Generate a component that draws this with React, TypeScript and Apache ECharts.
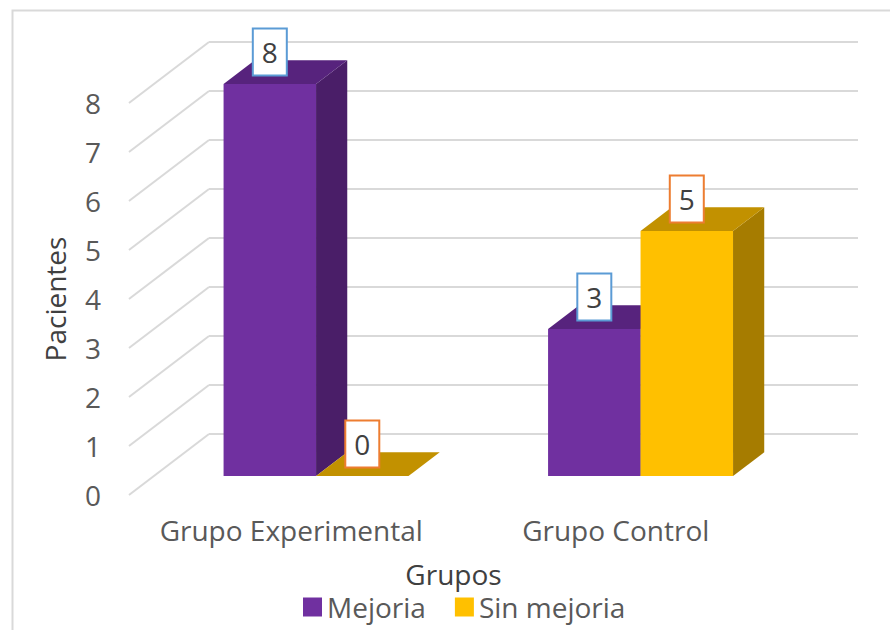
import React, { useEffect, useRef } from "react";
import * as echarts from "echarts";

const categories = ["Grupo Experimental", "Grupo Control"];
const mejoria = [8, 3];
const sinMejoria = [0, 5];
const yTicks = [0, 1, 2, 3, 4, 5, 6, 7, 8];
const seriesNames = ["Mejoria", "Sin mejoria"];

const FONT = "'Open Sans', 'DejaVu Sans', sans-serif";
// depth vector (back wall -> front edge of floor), in pixels
const DEPTH_DX = -80;
const DEPTH_DY = 61;
const FRONT_F = 0.69;
const BACK_F = 0.3;
const BAR_FRAC = 0.285;

const palettes = [
  { front: "#7030A0", top: "#57237D", side: "#4A1E68", border: "#5B9BD5" },
  { front: "#FFC000", top: "#C29100", side: "#A67C00", border: "#ED7D31" },
];

function makeBarRender(seriesIdx: number) {
  const pal = palettes[seriesIdx];
  return (params: any, api: any) => {
    const cat = api.value(0);
    const v = api.value(1);
    const base = api.coord([cat, 0]);
    const top = api.coord([cat, v]);
    const band = api.size([1, 0])[0];
    const w = band * BAR_FRAC;
    const x0 = seriesIdx === 0 ? base[0] - w : base[0];
    const fx = DEPTH_DX * FRONT_F;
    const fy = DEPTH_DY * FRONT_F;
    const bx = DEPTH_DX * BACK_F;
    const by = DEPTH_DY * BACK_F;
    const children: any[] = [];
    const h = base[1] - top[1];
    if (h > 0.5) {
      children.push({
        type: "rect",
        shape: { x: x0 + fx, y: top[1] + fy, width: w, height: h },
        style: { fill: pal.front },
      });
      children.push({
        type: "polygon",
        shape: {
          points: [
            [x0 + w + fx, top[1] + fy],
            [x0 + w + bx, top[1] + by],
            [x0 + w + bx, base[1] + by],
            [x0 + w + fx, base[1] + fy],
          ],
        },
        style: { fill: pal.side },
      });
    }
    children.push({
      type: "polygon",
      shape: {
        points: [
          [x0 + fx, top[1] + fy],
          [x0 + w + fx, top[1] + fy],
          [x0 + w + bx, top[1] + by],
          [x0 + bx, top[1] + by],
        ],
      },
      style: { fill: pal.top },
    });
    const cx = x0 + fx + w / 2;
    const cy = top[1] + fy - 32;
    children.push({
      type: "rect",
      z2: 10,
      shape: { x: cx - 17, y: cy - 23.5, width: 34, height: 47 },
      style: { fill: "#ffffff", stroke: pal.border, lineWidth: 2 },
    });
    children.push({
      type: "text",
      z2: 11,
      style: {
        x: cx,
        y: cy,
        text: String(v),
        fill: "#404040",
        font: `28px ${FONT}`,
        align: "center",
        verticalAlign: "middle",
      },
    });
    return { type: "group", children };
  };
}

export default function App() {
  const ref = useRef<HTMLDivElement>(null);
  useEffect(() => {
    if (!ref.current) return;
    const chart = echarts.init(ref.current, undefined, { renderer: "svg" });
    chart.setOption({
      animation: false,
      backgroundColor: "#ffffff",
      textStyle: { fontFamily: FONT },
      graphic: [
        {
          type: "rect",
          left: 10,
          top: 8,
          shape: { width: 1000, height: 1000 },
          style: { fill: "none", stroke: "#D9D9D9", lineWidth: 2 },
          silent: true,
        },
      ],
      legend: {
        data: seriesNames,
        left: 298,
        top: 588,
        icon: "rect",
        itemWidth: 19,
        itemHeight: 19,
        itemGap: 29,
        textStyle: { fontSize: 28, color: "#595959", fontFamily: FONT, lineHeight: 28 },
      },
      grid: [
        { left: 209, right: 32, top: 42, bottom: 196 },
        { left: 129, right: 112, top: 103, bottom: 135 },
      ],
      xAxis: [
        {
          type: "category",
          gridIndex: 0,
          data: categories,
          axisLine: { show: false },
          axisTick: { show: false },
          axisLabel: { show: false },
        },
        {
          type: "category",
          gridIndex: 1,
          data: categories,
          axisLine: { show: false },
          axisTick: { show: false },
          axisLabel: { fontSize: 28, color: "#595959", margin: 21, fontFamily: FONT, interval: 0 },
          name: "Grupos",
          nameLocation: "middle",
          nameGap: 65,
          nameTextStyle: { fontSize: 28, color: "#404040", fontFamily: FONT },
        },
      ],
      yAxis: [
        {
          type: "value",
          gridIndex: 0,
          min: 0,
          max: 8,
          interval: 1,
          axisLine: { show: false },
          axisTick: { show: false },
          axisLabel: { show: false },
          splitLine: { lineStyle: { color: "#D9D9D9", width: 2 } },
        },
        {
          type: "value",
          gridIndex: 1,
          min: 0,
          max: 8,
          interval: 1,
          axisLine: { show: false },
          axisTick: { show: false },
          splitLine: { show: false },
          axisLabel: { fontSize: 28, color: "#595959", margin: 28, fontFamily: FONT },
          name: "Pacientes",
          nameLocation: "middle",
          nameGap: 60,
          nameTextStyle: { fontSize: 28, color: "#404040", fontFamily: FONT },
        },
      ],
      series: [
        {
          type: "custom",
          name: "floorlines",
          xAxisIndex: 0,
          yAxisIndex: 0,
          silent: true,
          data: yTicks.map((t) => [0, t]),
          renderItem: (params: any, api: any) => {
            const p = api.coord([0, api.value(1)]);
            const band = api.size([1, 0])[0];
            const lx = p[0] - band / 2;
            return {
              type: "line",
              shape: { x1: lx, y1: p[1], x2: lx + DEPTH_DX, y2: p[1] + DEPTH_DY },
              style: { stroke: "#D9D9D9", lineWidth: 2 },
            };
          },
        },
        {
          type: "custom",
          name: seriesNames[0],
          xAxisIndex: 0,
          yAxisIndex: 0,
          itemStyle: { color: palettes[0].front },
          data: mejoria.map((v, i) => [i, v]),
          renderItem: makeBarRender(0),
        },
        {
          type: "custom",
          name: seriesNames[1],
          xAxisIndex: 0,
          yAxisIndex: 0,
          itemStyle: { color: palettes[1].front },
          data: sinMejoria.map((v, i) => [i, v]),
          renderItem: makeBarRender(1),
        },
      ],
    });
    return () => chart.dispose();
  }, []);
  return (
    <div
      ref={ref}
      style={{ position: "fixed", left: 0, top: 0, width: 890, height: 630 }}
    />
  );
}
